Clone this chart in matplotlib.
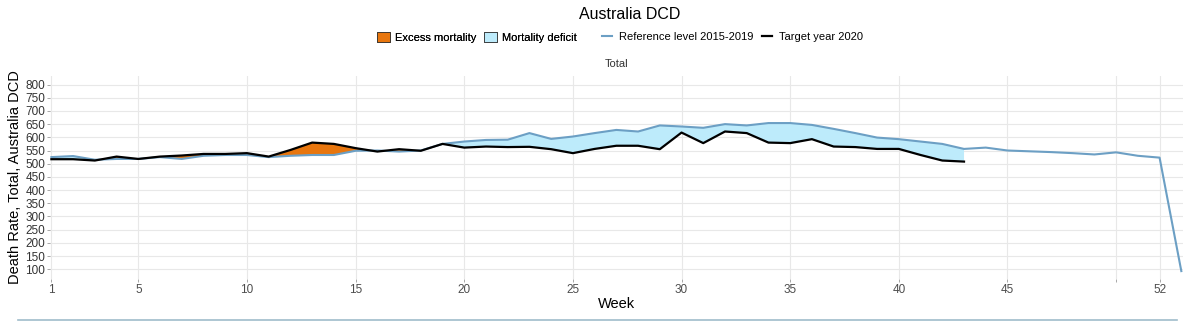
import matplotlib.pyplot as plt
import numpy as np
from matplotlib.patches import Patch
from matplotlib.lines import Line2D

plt.rcParams['font.family'] = ['Liberation Sans', 'DejaVu Sans']

# weekly death rates, Australia DCD
weeks_ref = np.arange(1, 54)
reference = [525, 529, 515, 518, 518, 525, 518, 530, 533, 533,
             525, 530, 533, 533, 549, 550, 546, 550, 575, 584,
             590, 591, 616, 594, 603, 616, 628, 622, 645, 641,
             636, 650, 645, 654, 654, 647, 632, 616, 599, 593,
             584, 575, 556, 561, 550, 547, 544, 540, 535, 543,
             530, 523, 93]

weeks_2020 = np.arange(1, 44)
target = [517, 517, 512, 527, 518, 527, 531, 537, 537, 540,
          527, 552, 580, 575, 559, 546, 555, 549, 575, 561,
          565, 563, 564, 555, 540, 556, 568, 568, 555, 618,
          578, 622, 616, 580, 578, 593, 565, 563, 556, 556,
          533, 512, 508]

xtick_pos = [1, 5, 10, 15, 20, 25, 30, 35, 40, 45, 50, 52]
xtick_lab = ['1', '5', '10', '15', '20', '25', '30', '35', '40', '45', '', '52']

c_excess = '#E8760E'
c_deficit = '#BDEBFB'
c_ref = '#6C9FC4'

fig = plt.figure(figsize=(11.99, 3.22), dpi=100)
ax = fig.add_axes([0.0417, 0.1335, 0.945, 0.631])

ref_part = np.array(reference[:len(target)])
tgt = np.array(target)
ax.fill_between(weeks_2020, ref_part, tgt, where=tgt >= ref_part,
                interpolate=True, color=c_excess, lw=0, zorder=2)
ax.fill_between(weeks_2020, ref_part, tgt, where=tgt <= ref_part,
                interpolate=True, color=c_deficit, lw=0, zorder=2)
ax.plot(weeks_ref, reference, color=c_ref, lw=1.5, zorder=3)
ax.plot(weeks_2020, target, color='black', lw=1.6, zorder=4)

ax.set_xlim(0.936, 53.08)
ax.set_ylim(63, 833)
ax.set_yticks(np.arange(100, 801, 50))
ax.set_xticks(xtick_pos)
ax.set_xticklabels(xtick_lab)
ax.grid(True, color='#E8E8E8', lw=0.8, zorder=0)
for s in ax.spines.values():
    s.set_visible(False)
ax.tick_params(axis='both', length=2.5, width=0.6, color='#9A9A9A',
               labelsize=8.5, pad=1)
ax.tick_params(axis='x', labelcolor='#4D4D4D')
ax.tick_params(axis='y', labelcolor='#333333')

ax.set_xlabel('Week', fontsize=10.5, labelpad=1)
ax.set_ylabel('Death Rate, Total, Australia DCD', fontsize=10.5, labelpad=2)
ax.set_title('Total', fontsize=8, pad=6, color='#333333')

fig.text(0.525, 0.955, 'Australia DCD', ha='center', va='center', fontsize=11.5)

leg1 = fig.legend(handles=[Patch(facecolor=c_excess, edgecolor='#333333', lw=0.6, label='Excess mortality'),
                           Patch(facecolor=c_deficit, edgecolor='#333333', lw=0.6, label='Mortality deficit')],
                  loc='center', bbox_to_anchor=(0.398, 0.884), ncol=2, frameon=False,
                  fontsize=8, handlelength=1.1, handleheight=1.1, handletextpad=0.5, columnspacing=0.7)
leg2 = fig.legend(handles=[Line2D([], [], color=c_ref, lw=1.5, label='Reference level 2015-2019'),
                           Line2D([], [], color='black', lw=1.6, label='Target year 2020')],
                  loc='center', bbox_to_anchor=(0.611, 0.884), ncol=2, frameon=False,
                  fontsize=8, handlelength=0.9, handletextpad=0.6, columnspacing=0.8)
fig.add_artist(leg1)

# thin rule along the bottom edge
fig.add_artist(Line2D([0.015, 0.982], [0.006, 0.006], color='#9FBCCB', lw=1.2))

fig.savefig('out.png', dpi=100)
